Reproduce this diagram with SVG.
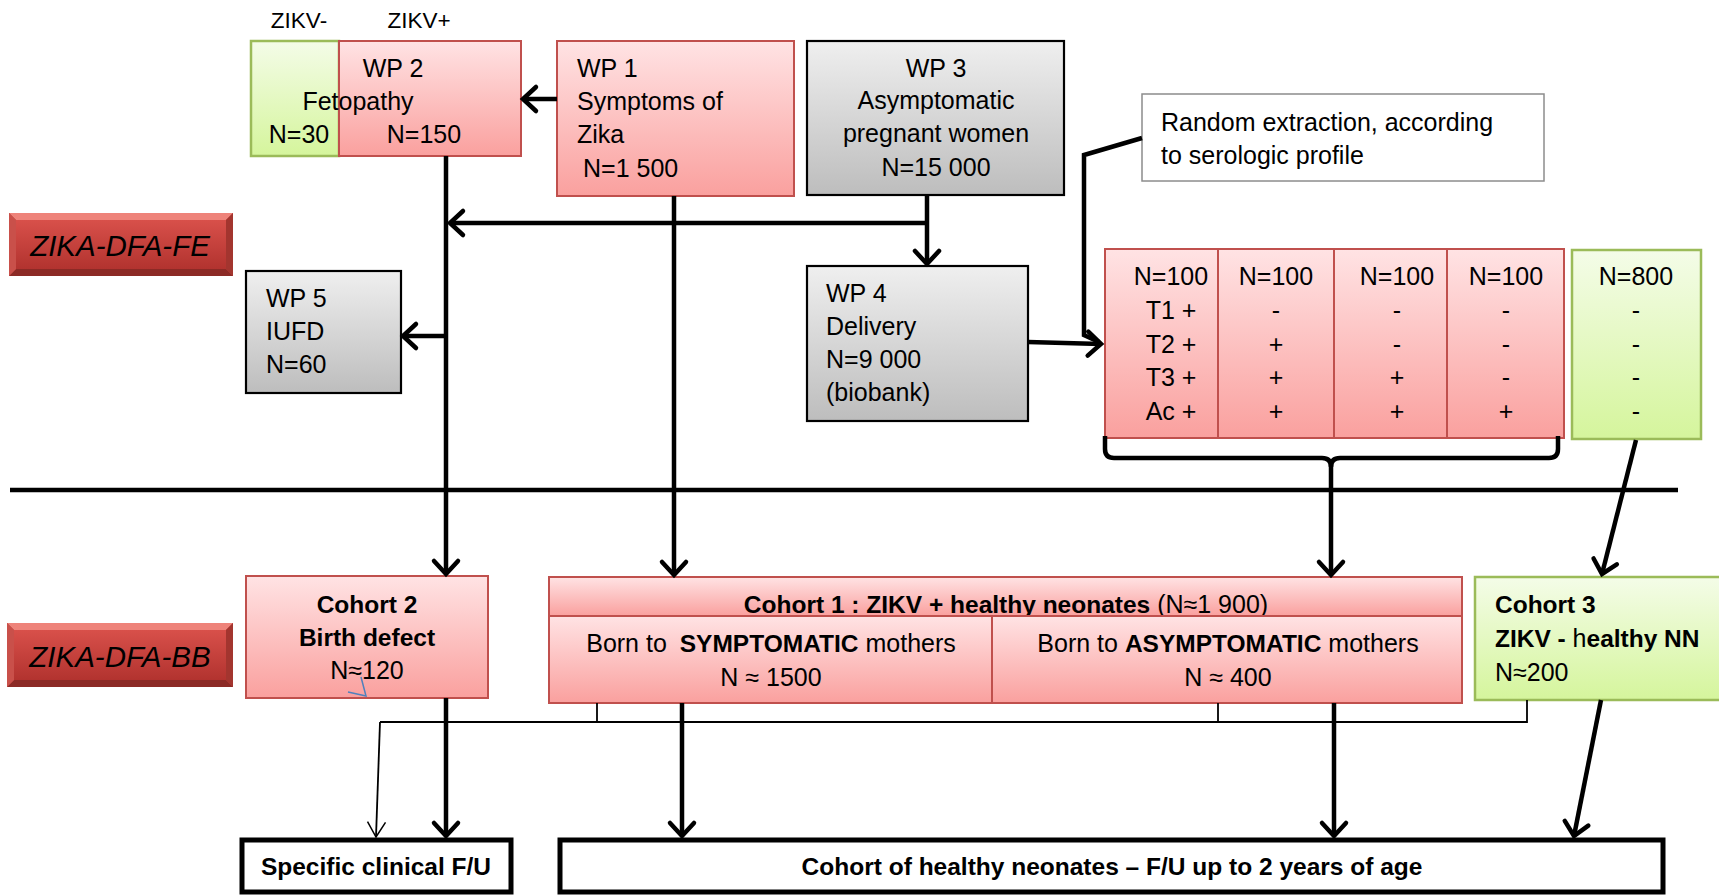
<svg xmlns="http://www.w3.org/2000/svg" width="1719" height="895" viewBox="0 0 1719 895">
<defs>
  <linearGradient id="gPink" x1="0" y1="0" x2="0" y2="1">
    <stop offset="0" stop-color="#FFE3E4"/>
    <stop offset="1" stop-color="#FAA09E"/>
  </linearGradient>
  <linearGradient id="gGreen" x1="0" y1="0" x2="0" y2="1">
    <stop offset="0" stop-color="#F4FCE8"/>
    <stop offset="1" stop-color="#D5F59C"/>
  </linearGradient>
  <linearGradient id="gGray" x1="0" y1="0" x2="0" y2="1">
    <stop offset="0" stop-color="#EFEFEF"/>
    <stop offset="1" stop-color="#BDBDBD"/>
  </linearGradient>
  <linearGradient id="gRed" x1="0" y1="0" x2="0" y2="1">
    <stop offset="0" stop-color="#D8504A"/>
    <stop offset="1" stop-color="#B2332F"/>
  </linearGradient>
  <marker id="ah" markerUnits="userSpaceOnUse" markerWidth="40" markerHeight="40" viewBox="-20 -20 40 40" refX="0" refY="0" orient="auto">
    <path d="M-13,-12 L0,0 L-13,12" fill="none" stroke="#000" stroke-width="4.5" stroke-linecap="round"/>
  </marker>
  <marker id="ahThin" markerUnits="userSpaceOnUse" markerWidth="40" markerHeight="40" viewBox="-20 -20 40 40" refX="0" refY="0" orient="auto">
    <path d="M-15,-9 L0,0 L-15,9" fill="none" stroke="#000" stroke-width="1.5"/>
  </marker>
</defs>
<style>
  text{font-family:"Liberation Sans",Arial,sans-serif;font-size:25px;fill:#000}
  .c{text-anchor:middle}
  .b{font-weight:bold;font-size:24.5px}
  .sm{font-size:22.5px}
  .it{font-style:italic;font-size:29.5px}
  .pink{fill:url(#gPink);stroke:#C0504D;stroke-width:2}
  .green{fill:url(#gGreen);stroke:#9BBB59;stroke-width:2.5}
  .gray{fill:url(#gGray);stroke:#000;stroke-width:2.2}
  .div{stroke:#C0504D;stroke-width:2;fill:none}
  .thick{fill:none;stroke:#000;stroke-width:4.5}
  .thin{fill:none;stroke:#000;stroke-width:1.8}
  .out{fill:#fff;stroke:#000;stroke-width:5}
</style>
<rect width="1719" height="895" fill="#fff"/>

<g id="col-labels">
  <text class="c sm" x="299" y="28">ZIKV-</text>
  <text class="c sm" x="419" y="28">ZIKV+</text>
</g>

<g id="zikv-neg">
  <rect class="green" x="251" y="41" width="88" height="115"/>
  <text class="c" x="299" y="143">N=30</text>
</g>

<g id="wp2">
  <rect class="pink" x="339" y="41" width="182" height="115"/>
  <text class="c" x="393" y="77">WP 2</text>
  <text class="c" x="358" y="110">Fetopathy</text>
  <text class="c" x="424" y="143">N=150</text>
</g>

<g id="wp1">
  <rect class="pink" x="557" y="41" width="237" height="155"/>
  <text x="577" y="77">WP 1</text>
  <text x="577" y="110">Symptoms of</text>
  <text x="577" y="143">Zika</text>
  <text x="583" y="177">N=1 500</text>
</g>

<g id="wp3">
  <rect class="gray" x="807" y="41" width="257" height="154"/>
  <text class="c" x="936" y="77">WP 3</text>
  <text class="c" x="936" y="109">Asymptomatic</text>
  <text class="c" x="936" y="142">pregnant women</text>
  <text class="c" x="936" y="176">N=15 000</text>
</g>

<g id="random-note">
  <rect x="1142" y="94" width="402" height="87" fill="#fff" stroke="#8C8C8C" stroke-width="1.5"/>
  <text x="1161" y="131">Random extraction, according</text>
  <text x="1161" y="164">to serologic profile</text>
</g>

<g id="label-fe">
  <rect x="9" y="213" width="224" height="63" fill="#B8413B"/>
  <polygon points="9,213 233,213 226,220 16,220" fill="#EE837A"/>
  <polygon points="9,276 233,276 226,269 16,269" fill="#8C2A26"/>
  <polygon points="9,213 16,220 16,269 9,276" fill="#C9504A"/>
  <polygon points="233,213 226,220 226,269 233,276" fill="#A3352F"/>
  <rect x="16" y="220" width="210" height="49" fill="url(#gRed)"/>
  <text class="c it" x="120" y="256">ZIKA-DFA-FE</text>
</g>

<g id="wp5">
  <rect class="gray" x="246" y="271" width="155" height="122"/>
  <text x="266" y="307">WP 5</text>
  <text x="266" y="340">IUFD</text>
  <text x="266" y="373">N=60</text>
</g>

<g id="wp4">
  <rect class="gray" x="807" y="266" width="221" height="155"/>
  <text x="826" y="302">WP 4</text>
  <text x="826" y="335">Delivery</text>
  <text x="826" y="368">N=9 000</text>
  <text x="826" y="401">(biobank)</text>
</g>

<g id="serology-table">
  <rect class="pink" x="1105" y="249" width="459" height="189"/>
  <line class="div" x1="1218" y1="249" x2="1218" y2="438"/>
  <line class="div" x1="1334" y1="249" x2="1334" y2="438"/>
  <line class="div" x1="1447" y1="249" x2="1447" y2="438"/>
  <text class="c" x="1171" y="285">N=100</text>
  <text class="c" x="1171" y="319">T1 +</text>
  <text class="c" x="1171" y="353">T2 +</text>
  <text class="c" x="1171" y="386">T3 +</text>
  <text class="c" x="1171" y="420">Ac +</text>
  <text class="c" x="1276" y="285">N=100</text>
  <text class="c" x="1276" y="319">-</text>
  <text class="c" x="1276" y="353">+</text>
  <text class="c" x="1276" y="386">+</text>
  <text class="c" x="1276" y="420">+</text>
  <text class="c" x="1397" y="285">N=100</text>
  <text class="c" x="1397" y="319">-</text>
  <text class="c" x="1397" y="353">-</text>
  <text class="c" x="1397" y="386">+</text>
  <text class="c" x="1397" y="420">+</text>
  <text class="c" x="1506" y="285">N=100</text>
  <text class="c" x="1506" y="319">-</text>
  <text class="c" x="1506" y="353">-</text>
  <text class="c" x="1506" y="386">-</text>
  <text class="c" x="1506" y="420">+</text>
</g>

<g id="zikv-neg-group">
  <rect class="green" x="1572" y="250" width="129" height="189"/>
  <text class="c" x="1636" y="285">N=800</text>
  <text class="c" x="1636" y="319">-</text>
  <text class="c" x="1636" y="353">-</text>
  <text class="c" x="1636" y="386">-</text>
  <text class="c" x="1636" y="420">-</text>
</g>

<g id="separator">
  <line x1="10" y1="490" x2="1678" y2="490" stroke="#000" stroke-width="4.5"/>
</g>

<g id="label-bb">
  <rect x="7" y="623" width="226" height="64" fill="#B8413B"/>
  <polygon points="7,623 233,623 226,630 14,630" fill="#EE837A"/>
  <polygon points="7,687 233,687 226,680 14,680" fill="#8C2A26"/>
  <polygon points="7,623 14,630 14,680 7,687" fill="#C9504A"/>
  <polygon points="233,623 226,630 226,680 233,687" fill="#A3352F"/>
  <rect x="14" y="630" width="212" height="50" fill="url(#gRed)"/>
  <text class="c it" x="120" y="667">ZIKA-DFA-BB</text>
</g>

<g id="cohort2">
  <rect class="pink" x="246" y="576" width="242" height="122"/>
  <text class="c b" x="367" y="613">Cohort 2</text>
  <text class="c b" x="367" y="646">Birth defect</text>
  <text class="c" x="367" y="679">N≈120</text>
  <polyline points="361,677 366,696 348,692" fill="none" stroke="#4F81BD" stroke-width="1.5"/>
</g>

<g id="cohort1">
  <rect class="pink" x="549" y="577" width="913" height="39"/>
  <text class="c" x="1006" y="613"><tspan class="b">Cohort 1 : ZIKV + healthy neonates</tspan> (N≈1 900)</text>
  <rect class="pink" x="549" y="616" width="443" height="87"/>
  <rect class="pink" x="992" y="616" width="470" height="87"/>
  <text class="c" x="771" y="652">Born to <tspan dx="6" class="b">SYMPTOMATIC</tspan> mothers</text>
  <text class="c" x="771" y="686">N ≈ 1500</text>
  <text class="c" x="1228" y="652">Born to <tspan class="b">ASYMPTOMATIC</tspan> mothers</text>
  <text class="c" x="1228" y="686">N ≈ 400</text>
</g>

<g id="cohort3">
  <rect class="green" x="1475" y="577" width="260" height="123"/>
  <text class="b" x="1495" y="613">Cohort 3</text>
  <text x="1495" y="647"><tspan class="b">ZIKV - </tspan>h<tspan class="b">ealthy NN</tspan></text>
  <text x="1495" y="681">N≈200</text>
</g>

<g id="fu-specific">
  <rect class="out" x="242" y="840" width="269" height="52"/>
  <text class="c b" x="376" y="875">Specific clinical F/U</text>
</g>

<g id="fu-healthy">
  <rect class="out" x="560" y="840" width="1103" height="52"/>
  <text class="c b" x="1112" y="875">Cohort of healthy neonates – F/U up to 2 years of age</text>
</g>

<g id="connectors">
  <line class="thick" x1="557" y1="99" x2="523" y2="99" marker-end="url(#ah)"/>
  <line class="thick" x1="446" y1="156" x2="446" y2="574" marker-end="url(#ah)"/>
  <line class="thick" x1="927" y1="195" x2="927" y2="264" marker-end="url(#ah)"/>
  <line class="thick" x1="927" y1="223" x2="450" y2="223" marker-end="url(#ah)"/>
  <line class="thick" x1="446" y1="336" x2="403" y2="336" marker-end="url(#ah)"/>
  <line class="thick" x1="674" y1="196" x2="674" y2="575" marker-end="url(#ah)"/>
  <line class="thick" x1="1028" y1="342" x2="1101" y2="344" marker-end="url(#ah)"/>
  <polyline class="thick" points="1142,138 1084,155 1084,335 1099,342"/>
  <path class="thick" d="M1105,436 L1105,449 Q1105,458 1114,458 L1322,458 Q1331,458 1331,467 Q1331,458 1340,458 L1549,458 Q1558,458 1558,449 L1558,436"/>
  <line class="thick" x1="1331" y1="464" x2="1331" y2="575" marker-end="url(#ah)"/>
  <line class="thick" x1="1636" y1="440" x2="1602" y2="574" marker-end="url(#ah)"/>
  <line class="thick" x1="446" y1="698" x2="446" y2="836" marker-end="url(#ah)"/>
  <line class="thick" x1="682" y1="703" x2="682" y2="836" marker-end="url(#ah)"/>
  <line class="thick" x1="1334" y1="703" x2="1334" y2="836" marker-end="url(#ah)"/>
  <line class="thick" x1="1601" y1="700" x2="1574" y2="836" marker-end="url(#ah)"/>
  <polyline class="thin" points="597,703 597,722"/>
  <polyline class="thin" points="1218,703 1218,722"/>
  <polyline class="thin" points="1527,700 1527,722 380,722"/>
  <line class="thin" x1="380" y1="722" x2="376" y2="837" marker-end="url(#ahThin)"/>
</g>
</svg>
